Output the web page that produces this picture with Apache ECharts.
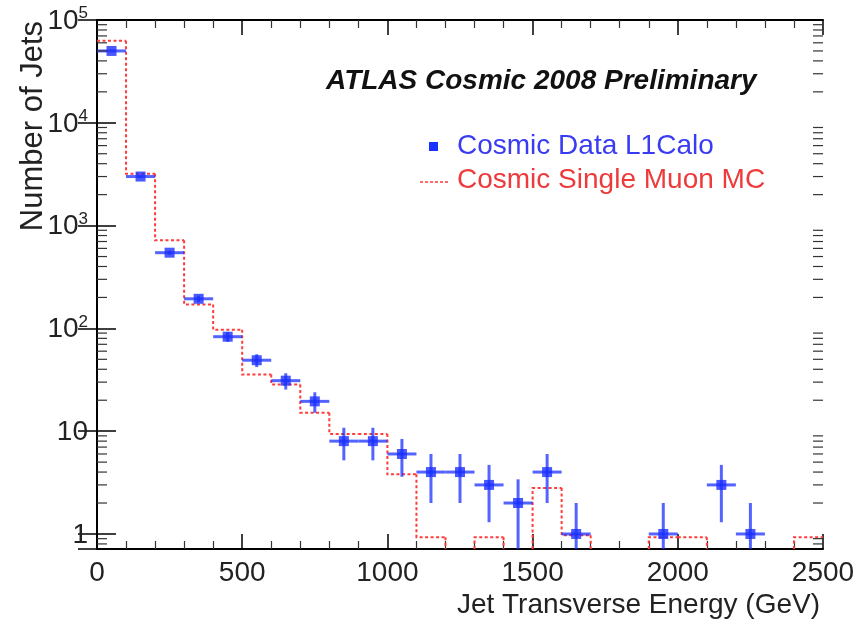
<!DOCTYPE html>
<html>
<head>
<meta charset="utf-8">
<script src="https://cdn.jsdelivr.net/npm/echarts@6/dist/echarts.min.js"></script>
<style>
html, body { margin: 0; padding: 0; background: #fff; }
#main { width: 865px; height: 624px; }
</style>
</head>
<body>
<div id="main"></div>
<script>
// data points (cosmic data), bin centres in GeV
var dataCenters = [50, 150, 250, 350, 450, 550, 650, 750, 850, 950, 1050, 1150, 1250, 1350, 1450, 1550, 1650, 1950, 2150, 2250];
var dataCounts = [50000, 3000, 545, 194, 83, 49, 31, 19.5, 8, 8, 6, 4, 4, 3, 2, 4, 1, 1, 3, 1];
// error bar half heights
var dataErr = [224, 55, 23, 14, 9, 7, 5.6, 4.4, 2.8, 2.8, 2.4, 2, 2, 1.7, 1.4, 2, 1, 1, 1.7, 1];
var binWidth = 100;

// MC histogram, lower bin edges and contents
var mcEdges = [0, 100, 200, 300, 400, 500, 600, 700, 800, 900, 1000, 1100, 1200, 1300, 1400, 1500, 1600, 1700, 1800, 1900, 2000, 2100, 2200, 2300, 2400];
var mcValues = [63000, 3200, 720, 171, 97, 35.6, 28.4, 15.1, 9.4, 9.4, 3.8, 0.93, 0, 0.93, 0, 2.8, 0.97, 0, 0, 0.93, 0.93, 0, 0, 0, 0.93];

// axes
var xTicks = [0, 500, 1000, 1500, 2000, 2500];
var yMin = 0.714, yMax = 100000;
var legendNames = ["Cosmic Data L1Calo", "Cosmic Single Muon MC"];
var titleText = "ATLAS Cosmic 2008 Preliminary";

var FONT = "'Liberation Sans', Arial, Helvetica, sans-serif";
var BLUE = "#1c30ff";
var RED = "#ff3b3b";

// minor ticks of the log axis: 2..9 in each decade
var logMinor = [];
for (var k = -1; k <= 4; k++) {
	for (var m = 2; m <= 9; m++) {
		var t = m * Math.pow(10, k);
		if (t > yMin && t < yMax) logMinor.push([t]);
	}
}

var pointData = [];
for (var i = 0; i < dataCenters.length; i++) {
	pointData.push([dataCenters[i], dataCounts[i], dataErr[i]]);
}
var mcData = [];
for (var i = 0; i < mcEdges.length; i++) {
	mcData.push([mcEdges[i], mcEdges[i] + binWidth, mcValues[i]]);
}

function yLabel(v) {
	var l = Math.log(v) / Math.LN10;
	var p = Math.round(l);
	if (Math.abs(l - p) > 0.01) return "";
	if (p <= 1) return "{b|" + Math.round(Math.pow(10, p)) + "}";
	return "{b|10}{s|" + p + "}";
}

var myChart = echarts.init(document.getElementById("main"));

var option = {
	animation: false,
	backgroundColor: "#fff",
	grid: { left: 97, right: 42, top: 20, bottom: 75 },
	xAxis: [{
		type: "value", min: 0, max: 2500, interval: 500,
		position: "bottom",
		axisLine: { lineStyle: { color: "#000", width: 2 } },
		axisTick: { inside: true, length: 15, lineStyle: { color: "#000", width: 1.5 } },
		minorTick: { show: true, splitNumber: 5, length: 8, lineStyle: { color: "#333", width: 1.2 } },
		splitLine: { show: false },
		axisLabel: { color: "#222", fontFamily: FONT, fontSize: 28, margin: 10,
			formatter: function (v) { return xTicks.indexOf(v) >= 0 ? String(v) : ""; } }
	}, {
		type: "value", min: 0, max: 2500, interval: 500,
		position: "top",
		axisLine: { lineStyle: { color: "#000", width: 2 } },
		axisTick: { inside: true, length: 15, lineStyle: { color: "#000", width: 1.5 } },
		minorTick: { show: true, splitNumber: 5, length: 8, lineStyle: { color: "#333", width: 1.2 } },
		splitLine: { show: false },
		axisLabel: { show: false }
	}],
	yAxis: [{
		type: "log", logBase: 10, min: yMin, max: yMax,
		position: "left",
		axisLine: { show: true, lineStyle: { color: "#000", width: 2 } },
		axisTick: { show: true, inside: true, length: 19, lineStyle: { color: "#000", width: 1.5 } },
		splitLine: { show: false },
		axisLabel: {
			color: "#222", margin: 9, showMinLabel: false,
			formatter: yLabel,
			rich: {
				b: { fontFamily: FONT, fontSize: 28, color: "#222", lineHeight: 30, verticalAlign: "bottom" },
				s: { fontFamily: FONT, fontSize: 17, color: "#222", lineHeight: 30, verticalAlign: "top" }
			}
		}
	}, {
		type: "log", logBase: 10, min: yMin, max: yMax,
		position: "right",
		axisLine: { show: true, lineStyle: { color: "#000", width: 2 } },
		axisTick: { show: true, inside: true, length: 19, lineStyle: { color: "#000", width: 1.5 } },
		splitLine: { show: false },
		axisLabel: { show: false }
	}],
	graphic: [
		{ type: "text", x: 326, y: 81, style: { text: titleText, fill: "#111", font: "italic bold 28px " + FONT, textAlign: "left", textVerticalAlign: "middle" } },
		{ type: "rect", shape: { x: 429, y: 142, width: 9, height: 9 }, style: { fill: BLUE } },
		{ type: "text", x: 457, y: 146, style: { text: legendNames[0], fill: "#3a3cf2", font: "28px " + FONT, textAlign: "left", textVerticalAlign: "middle" } },
		{ type: "line", shape: { x1: 420, y1: 182, x2: 448, y2: 182 }, style: { stroke: RED, lineWidth: 1.5, lineDash: [3, 2] } },
		{ type: "text", x: 457, y: 180, style: { text: legendNames[1], fill: "#ee3a3a", font: "28px " + FONT, textAlign: "left", textVerticalAlign: "middle" } },
		{ type: "text", x: 820, y: 605, style: { text: "Jet Transverse Energy (GeV)", fill: "#222", font: "28px " + FONT, textAlign: "right", textVerticalAlign: "middle" } },
		{ type: "text", x: 33, y: 21, rotation: Math.PI / 2, style: { text: "Number of Jets", fill: "#222", font: "31px " + FONT, textAlign: "right", textVerticalAlign: "middle" } }
	],
	series: [{
		// MC step histogram
		type: "custom",
		name: legendNames[1],
		xAxisIndex: 0, yAxisIndex: 0,
		encode: { x: [0, 1], y: 2 },
		data: mcData,
		z: 2,
		renderItem: function (params, api) {
			var idx = params.dataIndex;
			var lo = api.value(0), hi = api.value(1), v = api.value(2);
			var prev = idx > 0 ? mcValues[idx - 1] : 0;
			var bottom = params.coordSys.y + params.coordSys.height;
			var yOf = function (val) { return val > 0 ? api.coord([0, val])[1] : bottom; };
			var x0 = api.coord([lo, 1])[0], x1 = api.coord([hi, 1])[0];
			var pts;
			if (v > 0) {
				pts = idx === 0 ? [[x0, yOf(v)], [x1, yOf(v)]] : [[x0, yOf(prev)], [x0, yOf(v)], [x1, yOf(v)]];
			} else if (prev > 0) {
				pts = [[x0, yOf(prev)], [x0, bottom]];
			} else {
				return null;
			}
			return { type: "polyline", shape: { points: pts }, style: { stroke: RED, lineWidth: 2, lineDash: [3, 2.5], fill: null } };
		}
	}, {
		// error bars of data
		type: "custom",
		name: "err",
		xAxisIndex: 0, yAxisIndex: 0,
		encode: { x: 0, y: 1 },
		data: pointData,
		z: 3,
		renderItem: function (params, api) {
			var cx = api.value(0), cy = api.value(1), e = api.value(2);
			var bottom = params.coordSys.y + params.coordSys.height;
			var c = api.coord([cx, cy]);
			var left = api.coord([cx - binWidth / 2, cy])[0];
			var right = api.coord([cx + binWidth / 2, cy])[0];
			var top = api.coord([cx, cy + e])[1];
			var lowV = cy - e;
			var low = lowV > yMin ? api.coord([cx, lowV])[1] : bottom;
			var st = { stroke: BLUE, lineWidth: 3, opacity: 0.75 };
			return { type: "group", children: [
				{ type: "line", shape: { x1: left, y1: c[1], x2: right, y2: c[1] }, style: st },
				{ type: "line", shape: { x1: c[0], y1: top, x2: c[0], y2: low }, style: st }
			] };
		}
	}, {
		type: "scatter",
		name: legendNames[0],
		xAxisIndex: 0, yAxisIndex: 0,
		data: pointData,
		symbol: "rect",
		symbolSize: 10,
		itemStyle: { color: BLUE },
		z: 4
	}, {
		// minor ticks for the log axes
		type: "custom",
		name: "minor",
		xAxisIndex: 0, yAxisIndex: 0,
		encode: { y: 0 },
		data: logMinor,
		z: 5,
		silent: true,
		renderItem: function (params, api) {
			var y = api.coord([0, api.value(0)])[1];
			var gx = params.coordSys.x, gw = params.coordSys.width;
			var st = { stroke: "#333", lineWidth: 1.2 };
			return { type: "group", children: [
				{ type: "line", shape: { x1: gx, y1: y, x2: gx + 10, y2: y }, style: st },
				{ type: "line", shape: { x1: gx + gw - 10, y1: y, x2: gx + gw, y2: y }, style: st }
			] };
		}
	}]
};

myChart.setOption(option);
</script>
</body>
</html>
